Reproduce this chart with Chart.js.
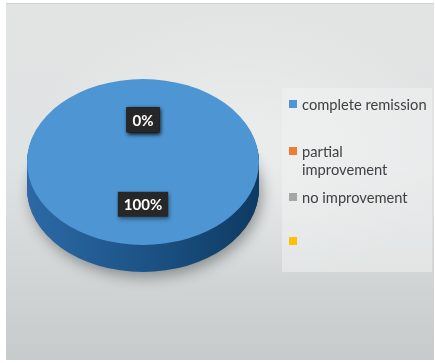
<!DOCTYPE html>
<html>
<head>
<meta charset="utf-8">
<script src="https://cdn.jsdelivr.net/npm/chart.js@4"></script>
<style>
    html, body { margin: 0; padding: 0; background: #fff; }
    #wrap { position: relative; width: 435px; height: 363px; overflow: hidden; }
    #bg {
        position: absolute; left: 6px; top: 3px; width: 428px; height: 356px;
        background:
            radial-gradient(ellipse 70% 55% at 55% 40%, rgba(240,242,242,0.7), rgba(240,242,242,0) 70%),
            linear-gradient(to bottom, #e2e4e4 0%, #e0e3e3 45%, #cdd1d1 85%, #c7cbcb 100%);
        border-top: 1px solid #cfd2d2;
    }
    #legendPanel {
        position: absolute; left: 282px; top: 88px; width: 150px; height: 184px;
        background: rgba(240,242,242,0.55);
    }
    #chart { position: absolute; left: 0; top: 0; }
    #legend {
        position: absolute; left: 289px; top: 95px; width: 145px;
        font-family: Lato, "Open Sans", sans-serif; font-size: 14.7px; color: #3e4142;
        line-height: 18px;
    }
    .item { display: flex; align-items: flex-start; }
    .swatch { width: 8px; height: 8px; margin-top: 5px; margin-right: 5px; flex: none; }
    .txt { max-width: 127px; }
</style>
</head>
<body>
<div id="wrap">
    <div id="bg"></div>
    <div id="legendPanel"></div>
    <canvas id="chart" width="435" height="363"></canvas>
    <div id="legend"></div>
</div>
<script>
const categories = ['complete remission', 'partial improvement', 'no improvement', ''];
const values = [100, 0, 0, 0];
const colors = ['#4e95d3', '#ed7d31', '#a5a5a5', '#ffc000'];

// 3D look: squash the pie vertically and stack a dark side under it
const tilt = 0.715;
const depth = 27;

const pie3d = {
    id: 'pie3d',
    beforeDatasetsDraw(chart) {
        const ctx = chart.ctx;
        const arcs = chart.getDatasetMeta(0).data;
        const cx = arcs[0].x, cy = arcs[0].y, r = arcs[0].outerRadius;
        ctx.save();
        ctx.translate(0, cy);
        ctx.scale(1, tilt);
        ctx.translate(0, -cy);

        let side = ctx.createLinearGradient(cx - r, 0, cx + r, 0);
        side.addColorStop(0, '#2c69a5');
        side.addColorStop(0.45, '#1e568a');
        side.addColorStop(1, '#0e3a62');

        for (let d = depth; d >= 1; d--) {
            ctx.save();
            ctx.translate(0, d / tilt);
            if (d === depth) {
                ctx.shadowColor = 'rgba(0,0,0,0.35)';
                ctx.shadowBlur = 14;
                ctx.shadowOffsetX = 3;
                ctx.shadowOffsetY = 5;
            }
            arcs.forEach(a => {
                if (a.circumference <= 0) return;
                ctx.beginPath();
                ctx.moveTo(a.x, a.y);
                ctx.arc(a.x, a.y, a.outerRadius, a.startAngle, a.endAngle);
                ctx.closePath();
                ctx.fillStyle = side;
                ctx.fill();
            });
            ctx.restore();
        }
    },
    afterDatasetsDraw(chart) {
        const ctx = chart.ctx;
        ctx.restore();
        const arcs = chart.getDatasetMeta(0).data;
        const total = values.reduce((s, v) => s + v, 0);
        ctx.font = 'bold 15px Lato, "Open Sans", sans-serif';
        ctx.textAlign = 'center';
        ctx.textBaseline = 'middle';
        arcs.forEach((a, i) => {
            const mid = (a.startAngle + a.endAngle) / 2;
            const lx = a.x + Math.cos(mid) * a.outerRadius * 0.51;
            const ly = a.y + Math.sin(mid) * a.outerRadius * 0.51 * tilt;
            const label = Math.round(values[i] / total * 100) + '%';
            const w = ctx.measureText(label).width + 12;
            const h = 25;
            ctx.save();
            ctx.shadowColor = 'rgba(0,0,0,0.45)';
            ctx.shadowBlur = 4;
            ctx.shadowOffsetX = 1;
            ctx.shadowOffsetY = 2;
            ctx.fillStyle = '#272727';
            ctx.fillRect(lx - w / 2, ly - h / 2, w, h);
            ctx.restore();
            ctx.fillStyle = '#ffffff';
            ctx.fillText(label, lx, ly + 1);
        });
    }
};

new Chart(document.getElementById('chart'), {
    type: 'pie',
    data: {
        labels: categories,
        datasets: [{
            data: values,
            backgroundColor: colors,
            borderWidth: 0,
            clip: false
        }]
    },
    options: {
        responsive: false,
        animation: false,
        events: [],
        layout: { padding: { left: 27, right: 176, top: 46, bottom: 85 } },
        plugins: {
            legend: { display: false },
            tooltip: { enabled: false }
        }
    },
    plugins: [pie3d]
});

// legend built from the same arrays
const gaps = [0, 29, 10, 26];
const legendDiv = document.getElementById('legend');
categories.forEach((c, i) => {
    let item = document.createElement('div');
    item.className = 'item';
    item.style.marginTop = gaps[i] + 'px';
    item.innerHTML = `<span class="swatch" style="background:${colors[i]}"></span><span class="txt">${c || '&nbsp;'}</span>`;
    legendDiv.appendChild(item);
});
</script>
</body>
</html>
